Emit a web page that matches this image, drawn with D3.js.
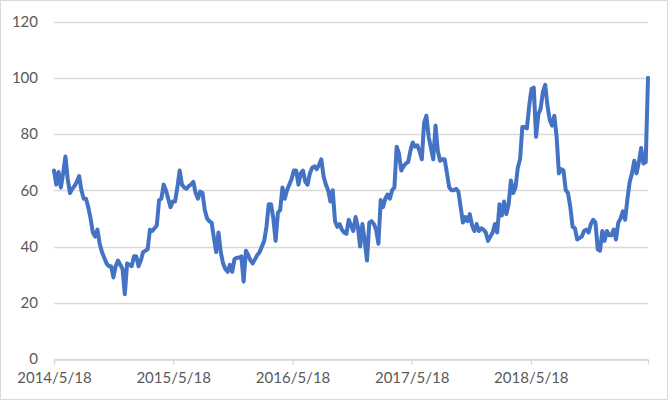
<!DOCTYPE html>
<html>
<head>
<meta charset="utf-8">
<script src="https://cdn.jsdelivr.net/npm/d3@7"></script>
<style>
  html, body { margin: 0; padding: 0; background: #fff; }
  svg { display: block; font-family: Lato, "Open Sans", sans-serif; }
</style>
</head>
<body>
<svg id="chart" width="668" height="400"></svg>
<script>
// ---- data ----
const startDate = "2014-05-18";   // first weekly observation
const stepDays = 7;               // weekly series
const values = [
  67, 62, 66.5, 61, 66, 72, 64, 59, 60.5, 61.5,
  63, 65, 60, 57, 57, 54, 50, 45, 43.5, 46,
  41, 38, 36, 34, 33, 33, 29, 33, 35, 33.5,
  32, 23, 34, 33.5, 33, 36.5, 36.5, 33, 35, 38,
  38.5, 39, 46, 45.5, 46.5, 47.5, 56.5, 57, 62, 60,
  57, 54, 56, 56, 61, 67, 62, 61, 60.5, 61.5,
  62, 63, 59, 57, 59.5, 59, 53, 50, 49, 48.5,
  43, 38, 45, 38, 34, 32, 31, 33.5, 31, 35.5,
  36, 36, 36.5, 27.5, 38.5, 37, 35, 34, 35.5, 37,
  38, 40, 42, 47, 55, 55, 50, 42, 52, 53,
  61, 57, 60, 62, 64, 67, 67, 62, 66, 67,
  63, 62, 66, 68, 68.5, 67.5, 69, 71, 65, 62,
  60, 56, 60, 49, 47, 48, 46, 45, 44.5, 49.5,
  47.5, 45.5, 50.5, 47, 40, 48, 42, 35, 48.5, 49,
  48, 46, 41, 56.5, 54, 57, 58.5, 57, 60, 61,
  75.5, 73, 67, 68.5, 69.5, 70, 74, 77, 75.5, 76,
  74, 71, 84, 86.5, 79, 75, 71, 83, 74, 70.5,
  71, 71, 66, 61, 60, 60, 60.5, 59.5, 54, 48.5,
  50.5, 49, 51.5, 47.5, 45.5, 48, 45.5, 46.5, 46, 45,
  42, 43.5, 45, 48, 45, 55, 51, 56, 51.5, 55,
  63.5, 59, 61, 68, 71, 82.5, 82.5, 82, 90, 96,
  96.5, 79, 87, 89, 95, 97.5, 90, 85, 83, 86.5,
  79, 66, 67.5, 67, 60, 59, 54, 47, 46.5, 42.5,
  43, 43.5, 45.5, 46, 45, 48, 49.5, 48.5, 39, 38.5,
  45.5, 42, 45.5, 44, 44, 46, 42.5, 48.5, 50, 52.5,
  49.5, 57, 63, 66, 70.5, 66, 70, 75, 69.5, 70,
  100
];
const xTickLabels = ["2014/5/18", "2015/5/18", "2016/5/18", "2017/5/18", "2018/5/18"];
const yTicks = [0, 20, 40, 60, 80, 100, 120];

// ---- build ----
const parse = d3.timeParse("%Y-%m-%d");
const parseTick = d3.timeParse("%Y/%m/%d");
const t0 = parse(startDate);
const data = values.map((v, i) => ({ date: d3.timeDay.offset(t0, i * stepDays), value: v }));
const tickDates = xTickLabels.map(s => parseTick(s));

const svg = d3.select("#chart");
const margin = { left: 54, right: 20, top: 21.5, bottom: 41 };
const W = 668, H = 400;

svg.append("rect").attr("x", 0.5).attr("y", 0.5).attr("width", W - 1).attr("height", H - 1)
  .attr("fill", "#fff").attr("stroke", "#d9d9d9");

const x = d3.scaleTime()
  .domain([data[0].date, data[data.length - 1].date])
  .range([margin.left, W - margin.right]);
const y = d3.scaleLinear().domain([0, 120]).range([H - margin.bottom, margin.top]);

// gridlines
svg.append("g").selectAll("line").data(yTicks).join("line")
  .attr("x1", margin.left).attr("x2", W - margin.right)
  .attr("y1", d => Math.round(y(d)) + 0.5).attr("y2", d => Math.round(y(d)) + 0.5)
  .attr("stroke", "#d9d9d9").attr("stroke-width", 1.3);

// y axis labels
const yAxis = d3.axisLeft(y).tickValues(yTicks).tickSize(0).tickPadding(16);
svg.append("g").attr("transform", `translate(${margin.left},0)`).call(yAxis)
  .call(g => g.select(".domain").remove())
  .call(g => g.selectAll("text").attr("fill", "#595959").style("font-size", "15px")
    .style("font-family", "Lato, 'Open Sans', sans-serif"));

// x axis
const xAxis = d3.axisBottom(x).tickValues(tickDates)
  .tickFormat((d, i) => xTickLabels[i]).tickSize(5).tickPadding(8);
svg.append("g").attr("transform", `translate(0,${Math.round(y(0)) + 0.5})`).call(xAxis)
  .call(g => g.select(".domain").attr("stroke", "#d9d9d9").attr("stroke-width", 1.3))
  .call(g => g.selectAll(".tick line").attr("stroke", "#d9d9d9").attr("stroke-width", 1.3))
  .call(g => g.selectAll("text").attr("fill", "#595959").style("font-size", "15px")
    .style("font-family", "Lato, 'Open Sans', sans-serif"));

// line
const line = d3.line().x(d => x(d.date)).y(d => y(d.value));
svg.append("path").datum(data)
  .attr("fill", "none")
  .attr("stroke", "#4472C4")
  .attr("stroke-width", 4)
  .attr("stroke-linejoin", "round")
  .attr("stroke-linecap", "round")
  .attr("d", line);
</script>
</body>
</html>
